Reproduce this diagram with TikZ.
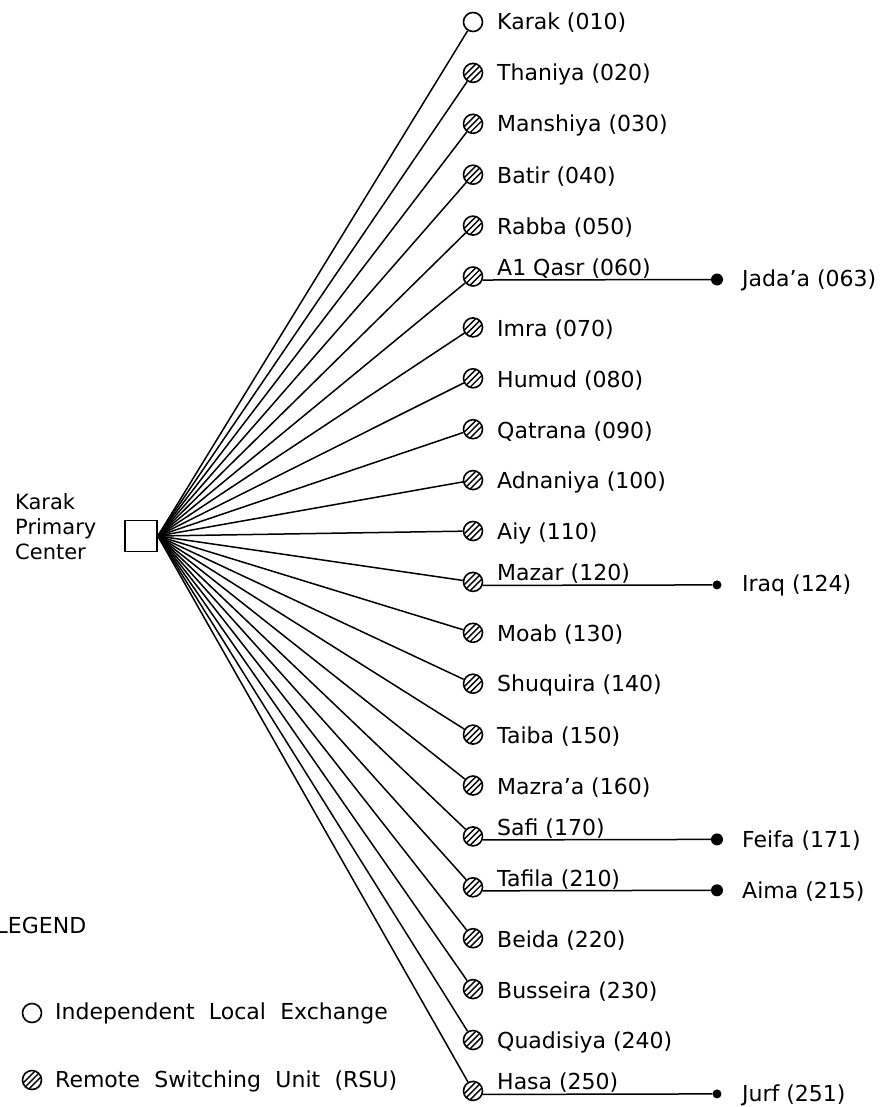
\documentclass[tikz,border=0pt]{standalone}
\usepackage{fontspec}
\setmainfont{DejaVu Sans}
\begin{document}
\begin{tikzpicture}[x=1pt,y=-1pt,
  conn/.style={line width=1.5pt},
  exch/.style={circle, draw, line width=1.6pt, minimum size=19pt, inner sep=0pt},
  rsu/.style={exch, path picture={
      \foreach \o in {-4.2,0,4.2}
        \draw[line width=1.4pt, shift={(path picture bounding box.center)}]
          (\o*0.707-9,\o*0.707+9) -- (\o*0.707+9,\o*0.707-9);}},
  bigdot/.style={circle, fill, inner sep=0pt, minimum size=12pt},
  smalldot/.style={circle, fill, inner sep=0pt, minimum size=9pt},
  lab/.style={anchor=west, inner sep=0pt, font=\fontsize{22}{25}\selectfont},
  ulab/.style={anchor=base west, inner sep=0pt, font=\fontsize{22}{25}\selectfont},
  hubbox/.style={draw, line width=1.6pt, minimum width=32pt, minimum height=31pt, inner sep=0pt}
]
\useasboundingbox (0,0) rectangle (882,1107);

% primary center
\node[hubbox] (hub) at (141,536) {};
\node[lab, align=left, font=\fontsize{21}{25}\selectfont] (hubname) at (15,527) {Karak\\Primary\\Center};

% independent exchange
\node[exch] (c0) at (473,22) {};
\node[lab] (l0) at (497,23) {Karak (010)};

% remote switching units with a plain label
\foreach \i/\t in {1/Thaniya (020), 2/Manshiya (030), 3/Batir (040), 4/Rabba (050),
                   6/Imra (070), 7/Humud (080), 8/Qatrana (090), 9/Adnaniya (100),
                   10/Aiy (110), 12/Moab (130), 13/Shuquira (140), 14/Taiba (150),
                   15/Mazra’a (160), 18/Beida (220), 19/Busseira (230), 20/Quadisiya (240)} {
  \node[rsu] (c\i) at (473,22+50.9*\i) {};
  \node[lab] (l\i) at (497,24+50.9*\i) {\t};
}

% remote switching units with a dependent unit
\foreach \i/\t/\s/\n in {5/A1 Qasr (060)/bigdot/Jada’a (063),
                         11/Mazar (120)/smalldot/Iraq (124),
                         16/Safi (170)/bigdot/Feifa (171),
                         17/Tafila (210)/bigdot/Aima (215),
                         21/Hasa (250)/smalldot/Jurf (251)} {
  \node[rsu] (c\i) at (473,22+50.9*\i) {};
  \node[ulab] (l\i) at (497,21+50.9*\i) {\t};
  \node[\s] (d\i) at (717,25+50.9*\i) {};
  \node[lab] (m\i) at (742,26+50.9*\i) {\n};
  \draw[conn] (c\i.-20) -- (d\i);
}

% links from the primary center
\foreach \i in {0,...,21}
  \draw[conn] (hub.east) -- (c\i);

% legend
\node[lab] (leg) at (-4.5,925) {LEGEND};
\node[exch] (lg1) at (32,1013) {};
\node[lab] (lgt1) at (55,1013) {\spaceskip=0.65em Independent Local Exchange};
\node[rsu] (lg2) at (32,1080) {};
\node[lab] (lgt2) at (55,1081) {\spaceskip=0.65em Remote Switching Unit (RSU)};
\end{tikzpicture}
\end{document}
